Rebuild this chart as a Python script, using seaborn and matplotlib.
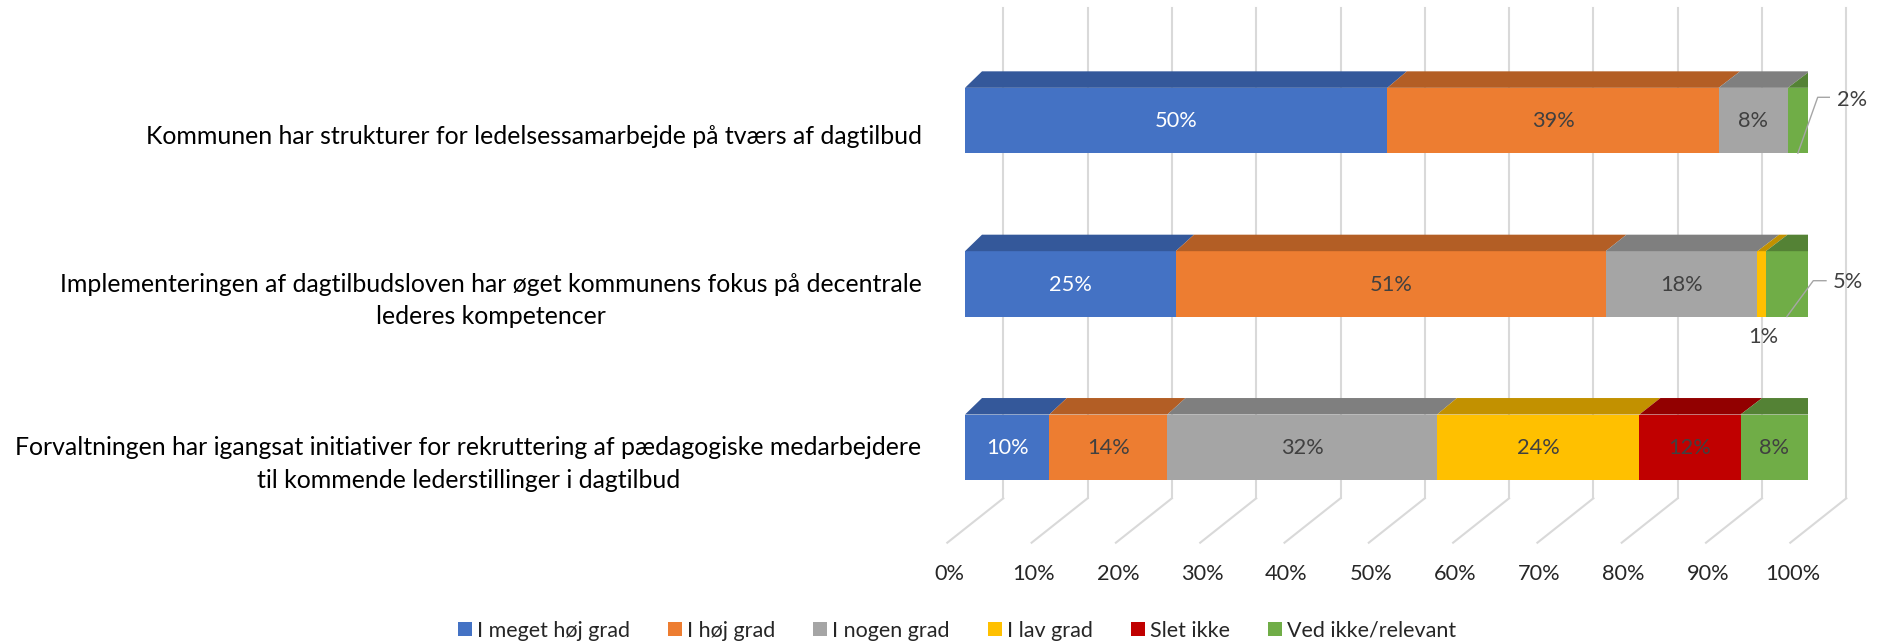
import numpy as np
import pandas as pd
import matplotlib
matplotlib.use("Agg")
import matplotlib.pyplot as plt
import seaborn as sb
from matplotlib.patches import Patch

# --- data ---
sporgsmal = [
    "Kommunen har strukturer for ledelsessamarbejde på tværs af dagtilbud",
    "Implementeringen af dagtilbudsloven har øget kommunens fokus på decentrale\nlederes kompetencer",
    "Forvaltningen har igangsat initiativer for rekruttering af pædagogiske medarbejdere\ntil kommende lederstillinger i dagtilbud",
]
kategorier = ["I meget høj grad", "I høj grad", "I nogen grad",
              "I lav grad", "Slet ikke", "Ved ikke/relevant"]

meget_hoj = [50.1, 25, 10]
hoj = [39.3, 51, 14]
nogen = [8.2, 18, 32]
lav = [0, 1, 24]
slet_ikke = [0, 0, 12]
ved_ikke = [2.4, 5, 8]

akser_etiketter = ["0%", "10%", "20%", "30%", "40%", "50%",
                   "60%", "70%", "80%", "90%", "100%"]

farver = ["#4472C4", "#ED7D31", "#A5A5A5", "#FFC000", "#C00000", "#70AD47"]
farver_top = ["#34589A", "#B35E25", "#7F7F7F", "#C29100", "#920000", "#548235"]
farve_side = "#47702A"
farve_grid = "#D9D9D9"

plt.rcParams['font.family'] = ['Lato', 'DejaVu Sans']

W, H = 1879, 644
X0, PX = 965.0, 8.43      # pixel of 0 % on the bar front, pixels per %
Y0, PY = 120.5, 163.35    # pixel of first bar centre, pixels per category
FORSKYD = -15.7 / PX      # floor front (tick labels) relative to bar front


def px_x(p):
    return (p - X0) / PX


def px_y(p):
    return (p - Y0) / PY


tabel = pd.DataFrame({k: v for k, v in zip(kategorier, [meget_hoj, hoj, nogen, lav, slet_ikke, ved_ikke])},
                     index=sporgsmal)
kum = tabel.cumsum(axis=1)

fig = plt.figure(figsize=(W / 100, H / 100), dpi=100)
venstre_px = X0 + FORSKYD * PX
ax = fig.add_axes([venstre_px / W, (H - 542.7) / H, (X0 + 100 * PX - venstre_px) / W, 542.7 / H])

# stacked bars: longest cumulative first
for j in range(len(kategorier) - 1, -1, -1):
    sb.barplot(x=kum.iloc[:, j].values, y=sporgsmal, orient="h", color=farver[j],
               saturation=1, width=0.4, linewidth=0, errorbar=None, ax=ax, zorder=2)

# 3D look: top faces and side face
h = 0.4
dy = 16.5 / PY


def dxf(x):
    return (17 + 5 * x / 100) / PX


for i in range(len(sporgsmal)):
    top = i - h / 2
    venstre = 0
    for j in range(len(kategorier)):
        v = tabel.iloc[i, j]
        hojre = venstre + v
        if v > 0:
            ax.fill([venstre, hojre, hojre + dxf(hojre), venstre + dxf(venstre)],
                    [top, top, top - dy, top - dy], color=farver_top[j], lw=0, zorder=2)
        venstre = hojre
    R = venstre
    ax.fill([R, R + dxf(R), R + dxf(R), R], [top, top - dy, top - dy + h, top + h],
            color=farve_side, lw=0, zorder=2)

# back wall gridlines and floor
for k in range(11):
    xw = k * 10 + 38.3 / PX
    ax.plot([xw, xw], [px_y(8), px_y(498.3)], color=farve_grid, lw=1.5, zorder=0, clip_on=False)
    ax.plot([xw, xw - 56 / PX], [px_y(498.3), px_y(542.7)], color=farve_grid, lw=1.5,
            zorder=0, clip_on=False)

# data labels
udenfor = {
    (0, 5): ((1851.7, 100), [(1829.3, 97.3), (1817.7, 97.3)]),
    (1, 5): ((1848.3, 282.3), [(1826, 280.7), (1813.3, 280.7)]),
    (1, 3): ((1763.3, 336.7), None),
}
for i in range(len(sporgsmal)):
    venstre = 0
    for j in range(len(kategorier)):
        v = tabel.iloc[i, j]
        tekst = f"{v:.0f}%"
        farve = "white" if j == 0 else "#404040"
        if (i, j) in udenfor:
            (lx, ly), leder = udenfor[(i, j)]
            ax.text(px_x(lx), px_y(ly), tekst, ha="center", va="center", fontsize=15.7,
                    color="#404040", zorder=4, clip_on=False)
            if leder is not None:
                xs = [px_x(p[0]) for p in leder] + [venstre + v / 2]
                ys = [px_y(p[1]) for p in leder] + [i + h / 2]
                ax.plot(xs, ys, color="#A6A6A6", lw=1, zorder=4, clip_on=False)
        elif v > 0:
            ax.text(venstre + v / 2, i + 0.005, tekst, ha="center", va="center",
                    fontsize=15.7, color=farve, zorder=4)
        venstre += v

for s in ax.spines.values():
    s.set_visible(False)

ax.set_xticks(np.arange(0, 101, 10) + FORSKYD, labels=akser_etiketter)
ax.tick_params(axis="x", length=0, pad=15, labelsize=15.7, labelcolor="#262626")
etiket_forskyd = np.array([14.5, 10.0, 10.0]) / PY
ax.set_yticks(np.arange(len(sporgsmal)) + etiket_forskyd, labels=sporgsmal)
ax.tick_params(axis="y", length=0, pad=20, labelsize=17.9, labelcolor="black")
for t in ax.get_yticklabels():
    t.set_multialignment("center")
    t.set_linespacing(1.5)
ax.set_xlim(FORSKYD, 100)
ax.set_ylim(px_y(542.7), px_y(0))
ax.set_xlabel("")
ax.set_ylabel("")

handles = [Patch(facecolor=c, label=k) for c, k in zip(farver, kategorier)]
fig.legend(handles=handles, ncol=6, loc="center", bbox_to_anchor=(957 / W, 1 - 630.7 / H),
           frameon=False, fontsize=15.5, handlelength=0.65, handleheight=0.65,
           handletextpad=0.23, columnspacing=1.77, labelcolor="#262626")

fig.savefig("out.png", dpi=100)
